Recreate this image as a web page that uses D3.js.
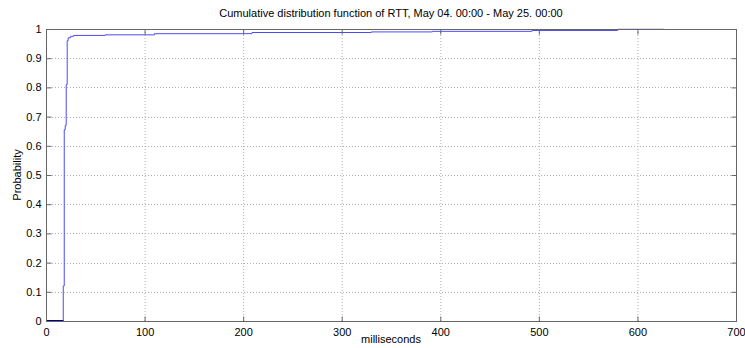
<!DOCTYPE html>
<html>
<head>
<meta charset="utf-8">
<script src="https://cdn.jsdelivr.net/npm/d3@7"></script>
<style>
  body { margin: 0; background: #fff; }
  text { font-family: "Liberation Sans", Arial, sans-serif; }
</style>
</head>
<body>
<div id="chart"></div>
<script>
// step points of the CDF (ms, probability)
var rttMs = [0, 17.5, 18.5, 19.5, 20.5, 21.5, 22.5, 25, 28, 60, 110, 209, 330, 392, 493, 580, 627];
var prob  = [0, 0.12, 0.655, 0.67, 0.81, 0.96, 0.97, 0.975, 0.978, 0.98, 0.984, 0.988, 0.990, 0.992, 0.995, 0.999, 1.0];
var xTicks = [0, 100, 200, 300, 400, 500, 600, 700];
var yTicks = [0, 0.1, 0.2, 0.3, 0.4, 0.5, 0.6, 0.7, 0.8, 0.9, 1];

var width = 745, height = 348;
var margin = {left: 46, right: 9, top: 29, bottom: 27};

var svg = d3.select("#chart").append("svg")
  .attr("width", width).attr("height", height);

var x = d3.scaleLinear().domain([0, 700]).range([margin.left, width - margin.right]);
var y = d3.scaleLinear().domain([0, 1]).range([height - margin.bottom, margin.top]);

// grid
svg.selectAll(".gx").data(xTicks.slice(1, -1)).enter().append("line")
  .attr("x1", function(d){ return x(d) + 0.5; }).attr("x2", function(d){ return x(d) + 0.5; })
  .attr("y1", y(0)).attr("y2", y(1))
  .style("stroke", "#b0b0b0").style("stroke-dasharray", "1,2");
svg.selectAll(".gy").data(yTicks.slice(1, -1)).enter().append("line")
  .attr("y1", function(d){ return Math.round(y(d)) + 0.5; }).attr("y2", function(d){ return Math.round(y(d)) + 0.5; })
  .attr("x1", x(0)).attr("x2", x(700))
  .style("stroke", "#b0b0b0").style("stroke-dasharray", "1,2");

// cdf line
var pts = rttMs.map(function(d, i){ return [d, prob[i]]; });
var line = d3.line()
  .x(function(d){ return x(d[0]); })
  .y(function(d){ return y(d[1]); })
  .curve(d3.curveStepAfter);
svg.append("path").datum(pts)
  .attr("d", line)
  .style("fill", "none")
  .style("stroke", "#4b4bf0")
  .style("stroke-width", 1);
svg.append("line")
  .attr("x1", x(0)).attr("x2", x(17.5)).attr("y1", y(0) - 0.5).attr("y2", y(0) - 0.5)
  .style("stroke", "#000080");

// box
svg.append("rect")
  .attr("x", x(0) + 0.5).attr("y", y(1) + 0.5)
  .attr("width", x(700) - x(0)).attr("height", y(0) - y(1))
  .style("fill", "none").style("stroke", "#666");

// axes (ticks inward)
var xAxis = d3.axisBottom(x).tickValues(xTicks).tickSize(-5).tickPadding(8).tickFormat(d3.format("d"));
var gx = svg.append("g").attr("transform", "translate(0," + (y(0) + 0.5) + ")").call(xAxis);
var xAxisTop = d3.axisTop(x).tickValues(xTicks).tickSize(-5).tickFormat("");
var gxt = svg.append("g").attr("transform", "translate(0," + (y(1) + 0.5) + ")").call(xAxisTop);
var yAxis = d3.axisLeft(y).tickValues(yTicks).tickSize(-5).tickPadding(8).tickFormat(function(d){ return d3.format("")(+d.toFixed(1)); });
var gy = svg.append("g").attr("transform", "translate(" + (x(0) + 0.5) + ",0)").call(yAxis);
var yAxisRight = d3.axisRight(y).tickValues(yTicks).tickSize(-5).tickFormat("");
var gyr = svg.append("g").attr("transform", "translate(" + (x(700) + 0.5) + ",0)").call(yAxisRight);

[gx, gxt, gy, gyr].forEach(function(g){
  g.select(".domain").remove();
  g.selectAll("line").style("stroke", "#666");
  g.selectAll("text").style("font-size", "11px").style("fill", "#000")
    .style("font-family", "'Liberation Sans', Arial, sans-serif");
});
gx.selectAll("text").attr("dy", "0.6em");
gy.selectAll("text").attr("dx", "3px");

// titles
svg.append("text").attr("x", 391).attr("y", 17).attr("text-anchor", "middle")
  .style("font-size", "11px").text("Cumulative distribution function of RTT, May 04. 00:00 - May 25. 00:00");
svg.append("text").attr("x", 391).attr("y", 343).attr("text-anchor", "middle")
  .style("font-size", "11px").text("milliseconds");
svg.append("text").attr("transform", "translate(21,175) rotate(-90)").attr("text-anchor", "middle")
  .style("font-size", "11px").text("Probability");
</script>
</body>
</html>
